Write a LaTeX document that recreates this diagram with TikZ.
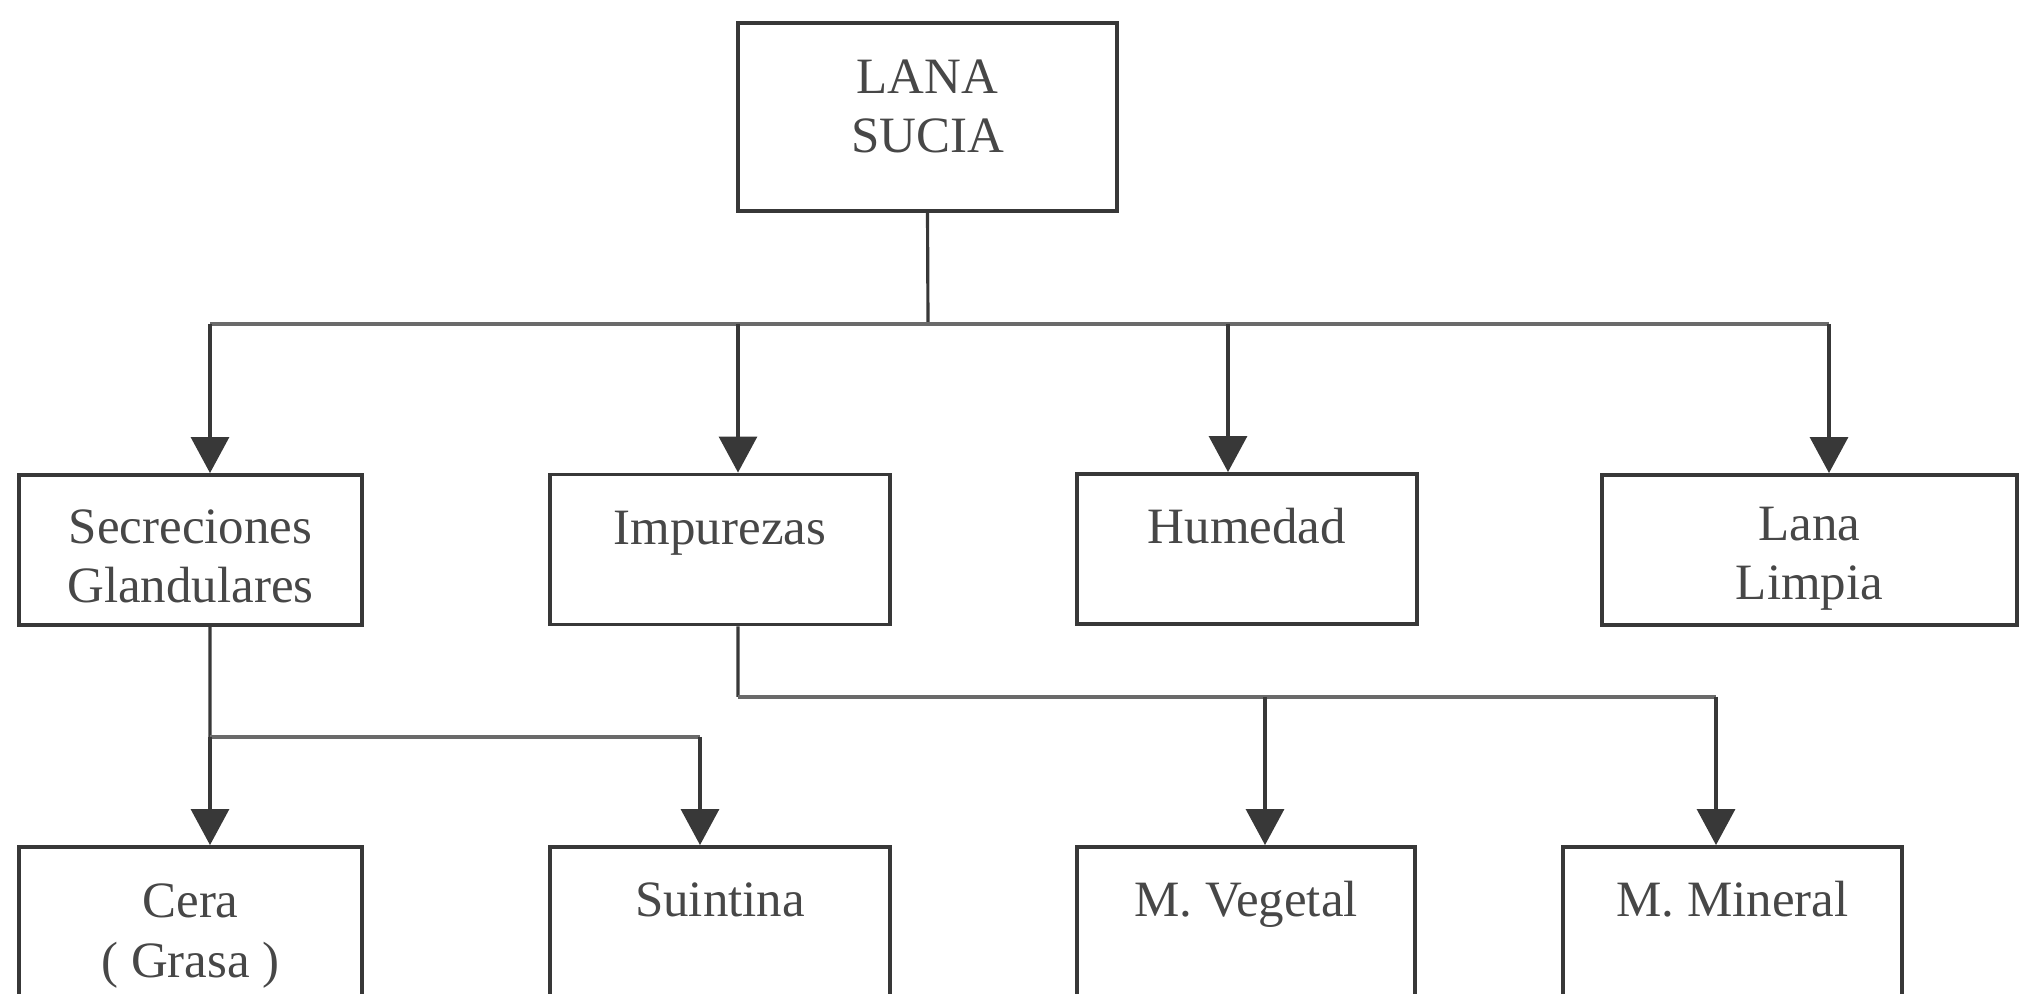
\documentclass[tikz,border=0pt]{standalone}
\usepackage{fontspec}
\setmainfont{Liberation Serif}
\usetikzlibrary{arrows.meta,positioning}
\definecolor{inkline}{HTML}{383838}
\definecolor{inkbus}{HTML}{6A6A6A}
\definecolor{inktext}{HTML}{474747}

\begin{document}
\begin{tikzpicture}[box/.style={draw=inkline,line width=1.1pt,rectangle,inner sep=0pt,minimum height=1.5cm,align=center,text=inktext,font=\fontsize{14.5}{17}\selectfont,text height=0.70cm,text depth=0.80cm},
    twoline/.style={box,text height=1.28cm,text depth=0.22cm},
    feed/.style={draw=inkline,line width=0.9pt},
    bus/.style={draw=inkbus,line width=1.4pt},
    >={Triangle[length=3.6mm,width=3.8mm]}]
    \useasboundingbox (0,0) rectangle (20.21,9.93);
    \clip (0,0) rectangle (20.21,9.93);

    \node[box,minimum width=3.79cm,minimum height=1.88cm,text height=1.30cm,text depth=0.58cm] (sucia) at (9.275,8.76) {LANA\\SUCIA};

    \node[twoline,minimum width=3.43cm] (sec) at (1.905,4.43) {Secreciones\\Glandulares};
    \node[box,minimum width=3.40cm] (imp) at (7.20,4.435) {Impurezas};
    \node[box,minimum width=3.40cm] (hum) at (12.47,4.44) {Humedad};
    \node[twoline,minimum width=4.15cm,text height=1.25cm,text depth=0.25cm] (lim) at (18.095,4.43) {Lana\\Limpia};

    \node[twoline,minimum width=3.43cm,text height=1.30cm,text depth=0.20cm] (cera) at (1.905,0.71) {Cera\\( Grasa )};
    \node[box,minimum width=3.40cm] (sui) at (7.20,0.71) {Suintina};
    \node[box,minimum width=3.38cm] (veg) at (12.46,0.71) {M. Vegetal};
    \node[box,minimum width=3.39cm] (min) at (17.325,0.71) {M. Mineral};

    \coordinate (bus1) at (9.28,6.69);
    \coordinate (secin) at ([xshift=1.95mm]sec.north);
    \coordinate (impin) at ([xshift=1.8mm]imp.north);
    \coordinate (humin) at ([xshift=-1.9mm]hum.north);
    \coordinate (limin) at ([xshift=1.95mm]lim.north);
    \draw[feed] (sucia.south) -- (bus1);
    \draw[bus] (secin |- bus1) -- (limin |- bus1);
    \draw[feed,->] (secin |- bus1) -- (secin);
    \draw[feed,->] (impin |- bus1) -- (impin);
    \draw[feed,->] (humin |- bus1) -- (humin);
    \draw[feed,->] (limin |- bus1) -- (limin);

    \coordinate (secout) at ([xshift=1.95mm]sec.south);
    \coordinate (bus2) at (2.10,2.56);
    \coordinate (cerain) at ([xshift=1.95mm]cera.north);
    \coordinate (suiin) at ([xshift=-2mm]sui.north);
    \draw[feed] (secout) -- (bus2);
    \draw[bus] (cerain |- bus2) -- (suiin |- bus2);
    \draw[feed,->] (cerain |- bus2) -- (cerain);
    \draw[feed,->] (suiin |- bus2) -- (suiin);

    \coordinate (impout) at ([xshift=1.8mm]imp.south);
    \coordinate (bus3) at (7.38,2.96);
    \coordinate (vegin) at ([xshift=1.9mm]veg.north);
    \coordinate (minin) at ([xshift=-1.65mm]min.north);
    \draw[feed] (impout) -- (bus3);
    \draw[bus] (impout |- bus3) -- (minin |- bus3);
    \draw[feed,->] (vegin |- bus3) -- (vegin);
    \draw[feed,->] (minin |- bus3) -- (minin);
\end{tikzpicture}
\end{document}
